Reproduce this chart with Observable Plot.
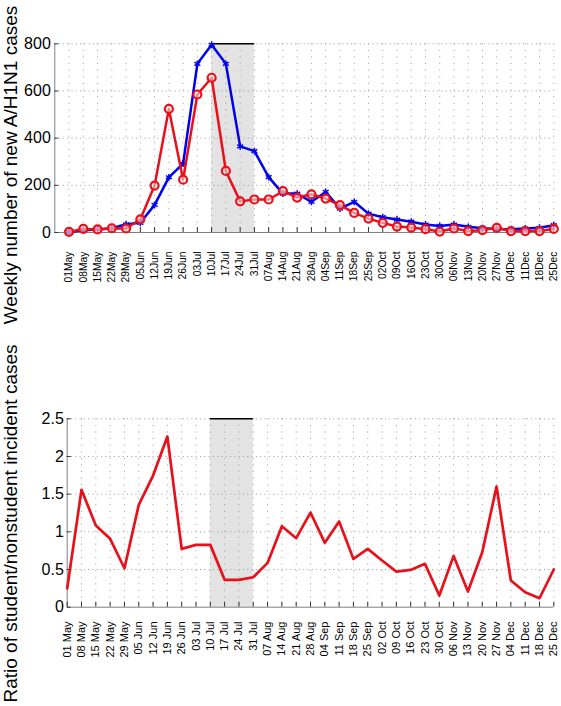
<!DOCTYPE html>
<html>
<head>
<meta charset="utf-8">
<script src="https://cdn.jsdelivr.net/npm/d3@7"></script>
<script src="https://cdn.jsdelivr.net/npm/@observablehq/plot@0.6"></script>
<style>
  html, body { margin: 0; padding: 0; background: #fff; }
  #chart { width: 561px; height: 706px; overflow: hidden; position: relative; }
  #chart svg { display: block; overflow: visible; }
</style>
</head>
<body>
<div id="chart"></div>
<script>
// ---- data ----
const weeksTop = ["01May","08May","15May","22May","29May","05Jun","12Jun","19Jun","26Jun","03Jul","10Jul","17Jul","24Jul","31Jul","07Aug","14Aug","21Aug","28Aug","04Sep","11Sep","18Sep","25Sep","02Oct","09Oct","16Oct","23Oct","30Oct","06Nov","13Nov","20Nov","27Nov","04Dec","11Dec","18Dec","25Dec"];
const weeksBottom = ["01 May","08 May","15 May","22 May","29 May","05 Jun","12 Jun","19 Jun","26 Jun","03 Jul","10 Jul","17 Jul","24 Jul","31 Jul","07 Aug","14 Aug","21 Aug","28 Aug","04 Sep","11 Sep","18 Sep","25 Sep","02 Oct","09 Oct","16 Oct","23 Oct","30 Oct","06 Nov","13 Nov","20 Nov","27 Nov","04 Dec","11 Dec","18 Dec","25 Dec"];
const redCases = [3,15,13,18,17,56,199,524,224,585,656,261,132,140,140,175,148,162,144,116,83,59,41,25,21,14,4,17,6,10,20,6,6,6,15];
const blueCases = [2,10,13,18,35,41,117,234,292,715,796,715,365,345,235,165,165,130,172,101,130,80,65,55,46,34,28,34,24,18,15,14,17,20,31];
const ratio = [0.25,1.557,1.084,0.907,0.517,1.358,1.747,2.264,0.774,0.827,0.827,0.363,0.363,0.398,0.588,1.075,0.916,1.256,0.854,1.137,0.641,0.774,0.619,0.473,0.495,0.575,0.155,0.681,0.208,0.730,1.601,0.354,0.199,0.119,0.500];
const yTicksTop = [0,200,400,600,800];
const yTicksBottom = [0,0.5,1,1.5,2,2.5];
const shadeStart = 11, shadeEnd = 14; // 10 Jul .. 31 Jul (week numbers)
const titleTop = "Weekly number of new A/H1N1 cases";
const titleBottom = "Ratio of student/nonstudent incident cases";

// ---- helpers ----
const FONT = "'Liberation Sans', Arial, Helvetica, sans-serif";
const RED = "#e8101a", BLUE = "#0000ee";
const GRID = "#9a9a9a", AXIS = "#808080", TICK = "#333";
const idx = d3.range(1, 36);
const rowsTop = idx.map((w, i) => ({w, red: redCases[i], blue: blueCases[i]}));
const rowsBottom = idx.map((w, i) => ({w, r: ratio[i]}));

function addTitle(svg, text, x, y) {
  d3.select(svg).append("text")
    .attr("transform", `translate(${x},${y}) rotate(-90)`)
    .attr("text-anchor", "middle")
    .attr("font-family", FONT)
    .attr("font-size", 19)
    .attr("fill", "#000")
    .text(text);
}

// ---- top chart ----
const W = 561;
const topH = 400, topMT = 43.3, topMB = 168, topML = 54.3, topMR = 7.7;
const topFrameH = topH - topMT - topMB, topFrameW = W - topML - topMR;
const chartTop = Plot.plot({
  width: W, height: topH,
  marginTop: topMT, marginBottom: topMB, marginLeft: topML, marginRight: topMR,
  style: {fontFamily: FONT, background: "transparent", color: "#000"},
  x: {domain: [0, 35]},
  y: {domain: [0, 800]},
  marks: [
    Plot.rect([0], {x1: shadeStart, x2: shadeEnd, y1: 0, y2: 800, fill: "#e3e3e3"}),
    Plot.ruleY(yTicksTop.slice(1), {stroke: GRID, strokeDasharray: "1,3.3"}),
    Plot.ruleX(idx, {stroke: GRID, strokeDasharray: "1,5.6"}),
    Plot.ruleY([800], {x1: shadeStart, x2: shadeEnd, stroke: "#000", strokeWidth: 1.5}),
    Plot.ruleX([0], {stroke: AXIS}),
    Plot.ruleY([0], {stroke: AXIS}),
    Plot.tickX(idx, {x: d => d, insetTop: topFrameH - 5, stroke: TICK}),
    Plot.tickY(yTicksTop, {y: d => d, insetRight: topFrameW - 4, stroke: TICK}),
    Plot.line(rowsTop, {x: "w", y: "blue", stroke: BLUE, strokeWidth: 2.5}),
    Plot.dot(rowsTop, {x: "w", y: "blue", symbol: "asterisk", r: 3.2, stroke: BLUE, strokeWidth: 1.5}),
    Plot.line(rowsTop, {x: "w", y: "red", stroke: RED, strokeWidth: 2.5}),
    Plot.dot(rowsTop, {x: "w", y: "red", r: 4, stroke: RED, fill: "#fff", fillOpacity: 0.5, strokeWidth: 2.2}),
    Plot.axisX({ticks: idx, tickFormat: i => weeksTop[i - 1], tickRotate: -90, tickSize: 0, tickPadding: 19, fontSize: 10.3, label: null}),
    Plot.axisY({ticks: yTicksTop, tickFormat: d => String(d), tickSize: 0, tickPadding: 4, fontSize: 16, label: null})
  ]
});
addTitle(chartTop, titleTop, 16.7, 165);
document.getElementById("chart").append(chartTop);

// ---- bottom chart ----
const botH = 306, botMT = 18.3, botMB = 99.3, botML = 66.7, botMR = 7.7;
const botFrameH = botH - botMT - botMB, botFrameW = W - botML - botMR;
const chartBottom = Plot.plot({
  width: W, height: botH,
  marginTop: botMT, marginBottom: botMB, marginLeft: botML, marginRight: botMR,
  style: {fontFamily: FONT, background: "transparent", color: "#000"},
  x: {domain: [1, 35]},
  y: {domain: [0, 2.5]},
  marks: [
    Plot.rect([0], {x1: shadeStart, x2: shadeEnd, y1: 0, y2: 2.5, fill: "#e3e3e3"}),
    Plot.ruleY(yTicksBottom.slice(1), {stroke: GRID, strokeDasharray: "1,3.3"}),
    Plot.ruleX(idx.slice(1), {stroke: GRID, strokeDasharray: "1,5.6"}),
    Plot.ruleY([2.5], {x1: shadeStart, x2: shadeEnd, stroke: "#000", strokeWidth: 1.5}),
    Plot.ruleX([1], {stroke: AXIS}),
    Plot.ruleY([0], {stroke: AXIS}),
    Plot.tickX(idx, {x: d => d, insetTop: botFrameH - 5, stroke: TICK}),
    Plot.tickY(yTicksBottom, {y: d => d, insetRight: botFrameW - 4, stroke: TICK}),
    Plot.line(rowsBottom, {x: "w", y: "r", stroke: RED, strokeWidth: 2.7}),
    Plot.axisX({ticks: idx, tickFormat: i => weeksBottom[i - 1], tickRotate: -90, tickSize: 0, tickPadding: 14.3, fontSize: 11, label: null}),
    Plot.axisY({ticks: yTicksBottom, tickFormat: d => String(d), tickSize: 0, tickPadding: 3.4, fontSize: 16, label: null})
  ]
});
addTitle(chartBottom, titleBottom, 16.7, 123.5);
document.getElementById("chart").append(chartBottom);
</script>
</body>
</html>
